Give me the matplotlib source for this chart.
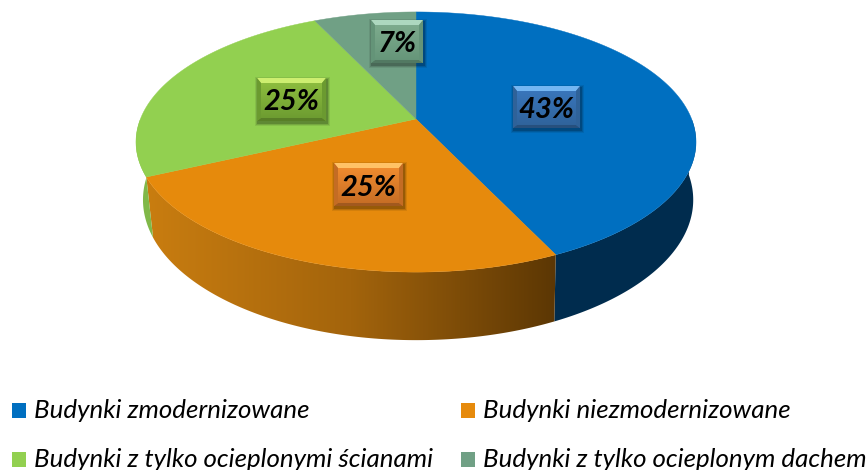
import matplotlib.pyplot as plt
import numpy as np
from matplotlib.colors import LinearSegmentedColormap, to_rgb
from matplotlib.patches import Polygon, Rectangle

plt.rcParams['font.family'] = ['Lato', 'DejaVu Sans']

# data
names = ["Budynki zmodernizowane", "Budynki niezmodernizowane",
         "Budynki z tylko ocieplonymi ścianami", "Budynki z tylko ocieplonym dachem"]
values = [43, 25, 25, 7]
labels = ["43%", "25%", "25%", "7%"]
colors = ["#006fc0", "#e68a0c", "#92d050", "#70a085"]
wall_colors = ["#002c4e", "#c97d10", "#80b848", "#5b8a70"]
box_top = ["#74b6f2", "#ffc266", "#cdee70", "#add8bf"]
box_mid = ["#3a78bf", "#f58f30", "#90c040", "#80ae90"]
box_low = ["#2f6299", "#c46c24", "#6b9a30", "#649478"]
box_pos = [(546.5, 107), (368.5, 184.5), (291.5, 99.5), (397, 41.5)]
box_size = [(67, 42), (69, 43), (69, 43), (52, 43)]
legend_pos = [(12, 410.5), (461, 410.5), (12, 459.5), (461, 459.5)]

# pie shape in pixels, with a bit of perspective
cx, cy = 416, 119
rx, ry, pers = 275.6, 126, 0.177
depth = 56


def rim(angle, bottom=False):
    th = np.radians(angle)
    s = 1 / (1 + pers * np.cos(th))
    x = rx * np.sin(th) * s
    y = -ry * np.cos(th) * s
    if bottom:
        # lower rim pulls in a bit more on the left
        return cx + np.where(x < 0, 0.975, 0.99) * x, cy + y + depth * s
    return cx + x, cy + y


fig = plt.figure(figsize=(8.68, 4.70), dpi=100)
ax = fig.add_axes([0, 0, 1, 1])
ax.axis('off')

edges = np.concatenate([[0], np.cumsum(values)]) * 360 / sum(values)

# side walls first, only the front half is visible
for i in range(len(values)):
    a0, a1 = max(edges[i], 90), min(edges[i + 1], 270)
    if a1 <= a0:
        continue
    ang = np.linspace(a0, a1, 120)
    xt, yt = rim(ang)
    xb, yb = rim(ang[::-1], bottom=True)
    pts = np.column_stack([np.r_[xt, xb], np.r_[yt, yb]])
    if i == 1:
        # orange wall gets darker to the right
        poly = Polygon(pts, closed=True, fc='none', ec='none', transform=ax.transData)
        ax.add_patch(poly)
        cmap = LinearSegmentedColormap.from_list('wall', ["#c97d10", "#a3640c", "#5c3704"])
        im = ax.imshow(np.linspace(0, 1, 256)[None, :], cmap=cmap, aspect='auto',
                       extent=(pts[:, 0].min(), pts[:, 0].max(), 345, 170), zorder=1)
        im.set_clip_path(poly)
    else:
        ax.fill(pts[:, 0], pts[:, 1], color=wall_colors[i], lw=0, zorder=1)

# top of the pie
for i in range(len(values)):
    ang = np.linspace(edges[i], edges[i + 1], 150)
    xt, yt = rim(ang)
    ax.fill(np.r_[cx, xt], np.r_[cy, yt], color=colors[i], lw=0.3, zorder=2)

# bevelled label boxes
for i, (bx, by) in enumerate(box_pos):
    w, h = box_size[i]
    l, r, t, b = bx - w / 2, bx + w / 2, by - h / 2, by + h / 2
    bev = 4
    for grow, alpha in [(3, 0.08), (2, 0.12), (1, 0.18)]:
        ax.add_patch(Rectangle((l + 1 - grow, t + 2 - grow), w + 2 * grow, h + 2 * grow,
                               fc='black', alpha=alpha, lw=0, zorder=3))
    cmap = LinearSegmentedColormap.from_list('box' + str(i), [box_mid[i], box_low[i]])
    ax.imshow(np.linspace(0, 1, 64)[:, None], cmap=cmap, aspect='auto',
              extent=(l, r, b, t), zorder=4)
    top = np.array(to_rgb(box_top[i]))
    low = np.array(to_rgb(box_low[i])) * 0.82
    ax.add_patch(Polygon([(l, t), (r, t), (r - bev, t + bev + 1), (l + bev, t + bev + 1)], fc=top, lw=0, zorder=5))
    ax.add_patch(Polygon([(l, b), (r, b), (r - bev, b - 3), (l + bev, b - 3)], fc=low, lw=0, zorder=5))
    ax.add_patch(Polygon([(l, t), (l + bev, t + bev + 1), (l + bev, b - 3), (l, b)], fc=box_low[i], lw=0, zorder=5))
    ax.add_patch(Polygon([(r, t), (r - bev, t + bev + 1), (r - bev, b - 3), (r, b)], fc=box_low[i], lw=0, zorder=5))
    ax.text(bx, by + 3, labels[i], ha='center', va='center', fontsize=21,
            fontweight='bold', style='italic', color='black', zorder=6)

# legend
for i, (lx, ly) in enumerate(legend_pos):
    ax.add_patch(Rectangle((lx, ly - 7.5), 14, 15, fc=colors[i], lw=0))
    ax.text(lx + 22, ly, names[i], ha='left', va='center', fontsize=18.6,
            style='italic', color='black')

ax.set_xlim(0, 868)
ax.set_ylim(470, 0)
fig.savefig("out.png", dpi=100)
